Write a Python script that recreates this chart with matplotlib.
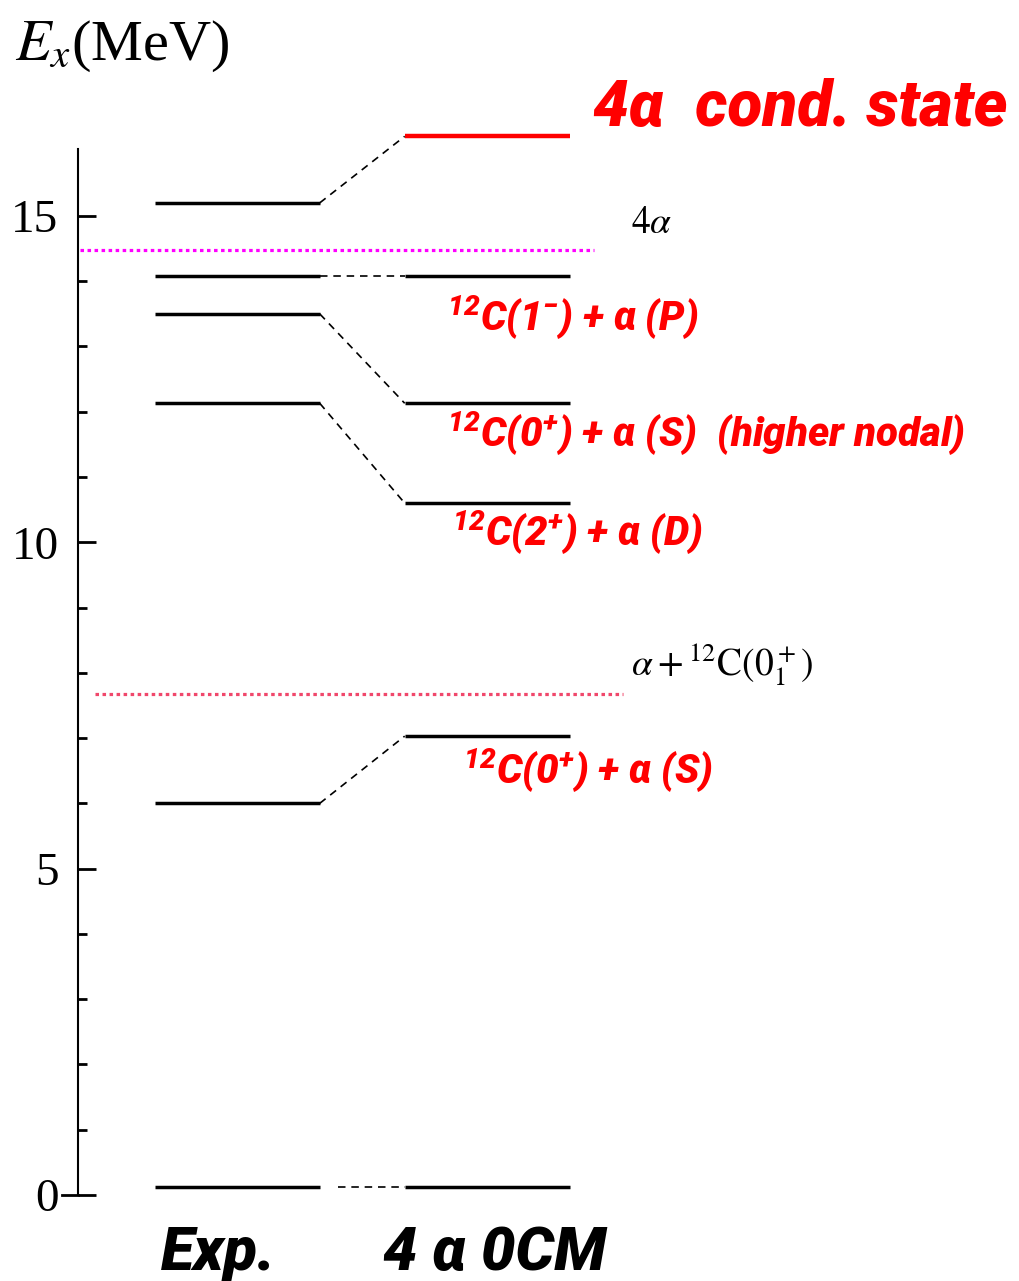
import matplotlib.pyplot as plt
from matplotlib.ticker import FixedLocator

# level energies (MeV)
exp_levels = [0.12, 6.0, 12.13, 13.5, 14.08, 15.2]
ocm_levels = [0.12, 7.03, 10.6, 12.13, 14.08]
cond_state = 16.22
# dashed correspondence lines: (Exp energy, OCM energy)
links = [(6.0, 7.03), (12.13, 10.6), (13.5, 12.13), (14.08, 14.08), (15.2, 16.22)]
ground_link = 0.12

thresholds = [14.48, 7.68]
threshold_colors = ["#ff00ff", "#f0476b"]
threshold_labels = [r"$4\alpha$", r"$\alpha + {}^{12}\mathrm{C}(0_1^+)$"]
threshold_label_y = [14.88, 8.12]

ocm_labels = [
    r"$^{12}$C(1$^{-}$) + α (P)",
    r"$^{12}$C(0$^{+}$) + α (S)  (higher nodal)",
    r"$^{12}$C(2$^{+}$) + α (D)",
    r"$^{12}$C(0$^{+}$) + α (S)",
]
ocm_label_y = [13.44, 11.67, 10.14, 6.5]

major_ticks = [0, 5, 10, 15]
minor_ticks = [1, 2, 3, 4, 6, 7, 8, 9, 11, 12, 13, 14]

plt.rcParams["mathtext.fontset"] = "custom"
plt.rcParams["mathtext.rm"] = "Roboto:black:italic"
plt.rcParams["mathtext.it"] = "Roboto:black:italic"
plt.rcParams["mathtext.bf"] = "Roboto:black:italic"

RED = "#ff0000"
heavy = dict(family=["Roboto", "DejaVu Sans"], weight="black", style="italic")

W, H = 1020, 1281
fig = plt.figure(figsize=(W / 100, H / 100), dpi=100)
ax = fig.add_axes([78 / W, 86 / H, 942 / W, 1195 / H])
ax.set_xlim(0, 942 / 82.5)
ax.set_ylim(0, 1195 / 65.27)

# column x-ranges
exp_x = (0.93, 2.93)
ocm_x = (3.96, 5.96)

for e in exp_levels:
    ax.plot(exp_x, [e, e], color="black", lw=2.5, solid_capstyle="butt")
for e in ocm_levels:
    ax.plot(ocm_x, [e, e], color="black", lw=2.5, solid_capstyle="butt")
ax.plot(ocm_x, [cond_state, cond_state], color=RED, lw=3.2,
        solid_capstyle="butt", clip_on=False)

for e_exp, e_ocm in links:
    ax.plot([exp_x[1], ocm_x[0]], [e_exp, e_ocm], color="black", lw=1.2,
            dashes=(4.5, 3.5), clip_on=False)
ax.plot([3.15, ocm_x[0]], [ground_link, ground_link], color="black", lw=1.2,
        dashes=(4.5, 3.5))

# threshold lines
ax.plot([0.03, 6.25], [thresholds[0], thresholds[0]], color=threshold_colors[0],
        lw=2.3, dashes=(1.1, 1.1))
ax.plot([0.2, 6.6], [thresholds[1], thresholds[1]], color=threshold_colors[1],
        lw=2.3, dashes=(1.1, 1.1))
for lab, y in zip(threshold_labels, threshold_label_y):
    ax.text(6.7, y, lab, fontsize=27, va="center", ha="left",
            family="Liberation Serif", math_fontfamily="stix")

# red labels
ax.text(6.24, 16.65, "4α  cond. state", fontsize=46, va="center", ha="left",
        color=RED, clip_on=False, **heavy)
label_x = [4.47, 4.47, 4.53, 4.67]
for lab, x, y in zip(ocm_labels, label_x, ocm_label_y):
    ax.text(x, y, lab, fontsize=29, va="center", ha="left", color=RED, **heavy)

# column names
ax.text(1.0, -0.89, "Exp.", fontsize=44, va="center", ha="left", **heavy)
ax.text(3.7, -0.89, "4 α 0CM", fontsize=44, va="center", ha="left", **heavy)

# axis
for side in ["top", "right", "bottom"]:
    ax.spines[side].set_visible(False)
ax.spines["left"].set_bounds(0, 16.03)
ax.spines["left"].set_linewidth(1.5)
ax.set_xticks([])
ax.yaxis.set_major_locator(FixedLocator(major_ticks))
ax.yaxis.set_minor_locator(FixedLocator(minor_ticks))
ax.tick_params(axis="y", which="major", direction="in", length=13, width=2.0,
               pad=14, labelsize=34)
ax.tick_params(axis="y", which="minor", direction="in", length=6.5, width=2.0)
for t in ax.get_yticklabels():
    t.set_family("Liberation Serif")
ax.plot([-0.2, 0], [0, 0], color="black", lw=2.0, clip_on=False)

fig.text(15 / W, 1 - 60 / H, r"$E_x$(MeV)", fontsize=42, va="baseline", ha="left",
         family="Liberation Serif", math_fontfamily="stix")

fig.savefig("out.png", dpi=100)
